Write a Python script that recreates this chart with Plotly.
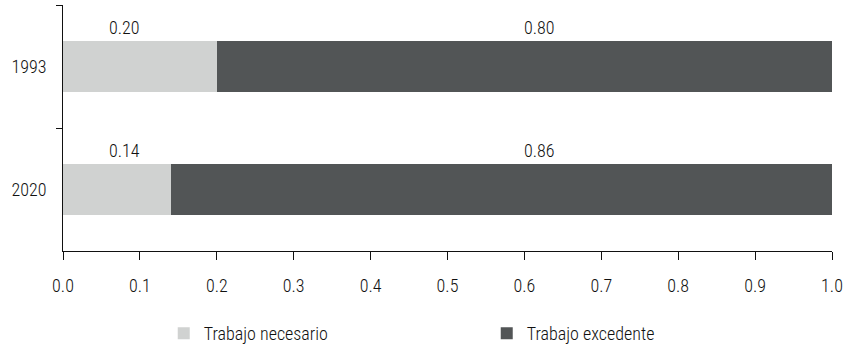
import plotly.graph_objects as go

years = ["1993", "2020"]
necesario = [0.20, 0.14]
excedente = [0.80, 0.86]
series_names = ["Trabajo necesario", "Trabajo excedente"]
colors = ["#d0d2d1", "#525556"]
x_ticks = [0.0, 0.1, 0.2, 0.3, 0.4, 0.5, 0.6, 0.7, 0.8, 0.9, 1.0]

FONT = "Roboto Condensed, Liberation Sans Narrow, sans-serif"
TXT = dict(family=FONT, size=18, color="#111", weight=300)

fig = go.Figure()
for name, vals, col in zip(series_names, [necesario, excedente], colors):
    fig.add_trace(go.Bar(
        y=years, x=vals, name=name, orientation="h",
        marker=dict(color=col, line=dict(width=0)),
    ))

# value labels above each segment (y given as category index)
label_x = [0.08, 0.62]
for vals, lx in zip([necesario, excedente], label_x):
    for i, v in enumerate(vals):
        fig.add_annotation(
            x=lx, y=i, text=f"{v:.2f}", showarrow=False,
            yshift=39, font=TXT,
        )

fig.update_layout(
    barmode="stack",
    bargap=0.58,
    width=847, height=356,
    margin=dict(l=63, r=15, t=5, b=105, autoexpand=False),
    plot_bgcolor="white", paper_bgcolor="white",
    font=TXT,
    showlegend=True,
    legend=dict(
        orientation="h", x=0.131, xanchor="left", y=-0.26, yanchor="top",
        entrywidth=278, entrywidthmode="pixels",
        traceorder="normal", font=TXT,
    ),
)
fig.update_xaxes(
    range=[0, 1.0], tickvals=x_ticks, ticktext=[f"{t:.1f}" for t in x_ticks],
    showline=True, linecolor="#111", linewidth=1,
    ticks="outside", ticklen=8, tickcolor="#111", ticklabelstandoff=10,
    showgrid=False, zeroline=False,
)
fig.update_yaxes(
    type="category", categoryorder="array", categoryarray=years,
    range=[1.5, -0.5],
    showline=True, linecolor="#111", linewidth=1,
    ticks="outside", ticklen=6, tickcolor="#111", tickson="boundaries",
    ticklabelstandoff=12,
    showgrid=False, zeroline=False,
)

fig.write_html("out.html", config={"displayModeBar": False},
               post_script="document.body.style.margin='0';")
